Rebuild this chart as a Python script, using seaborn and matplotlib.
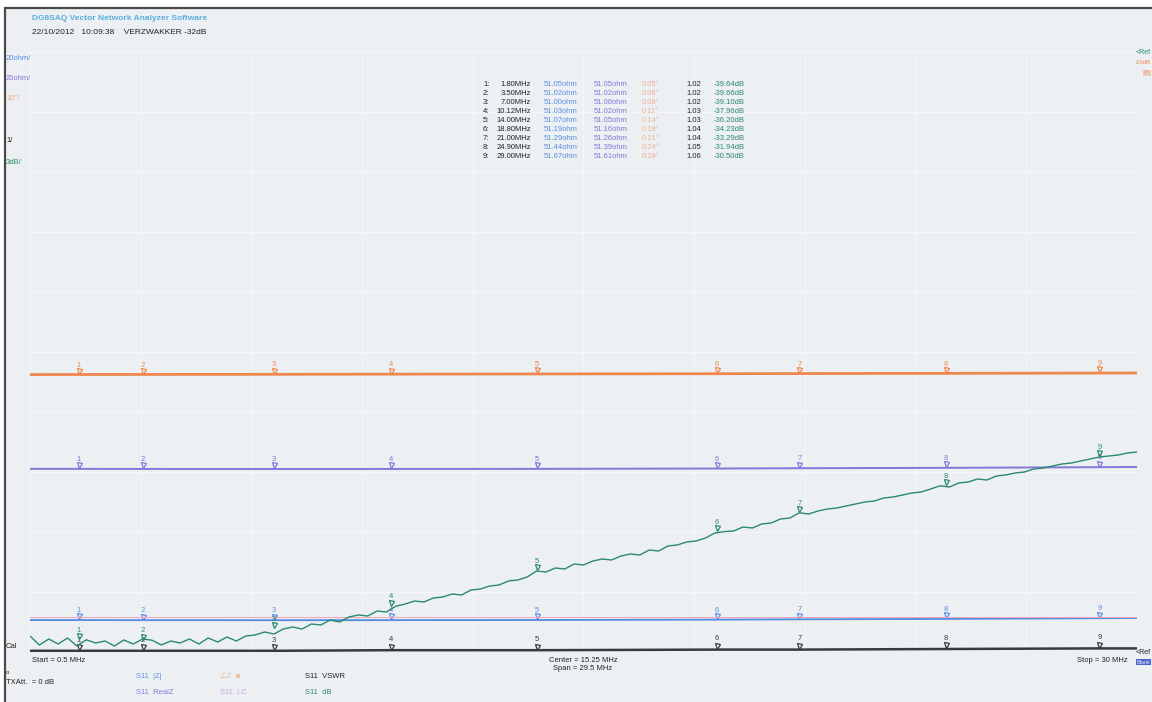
import matplotlib
matplotlib.use("Agg")
import matplotlib.pyplot as plt
import seaborn as sns
from matplotlib.transforms import offset_copy
from matplotlib.lines import Line2D
from matplotlib.patches import Rectangle

marker_mhz = [1.80, 3.50, 7.00, 10.12, 14.00, 18.80, 21.00, 24.90, 29.00]
abs_z = [51.05, 51.02, 51.00, 51.03, 51.07, 51.19, 51.29, 51.44, 51.67]
real_z = [51.05, 51.02, 51.00, 51.02, 51.05, 51.16, 51.26, 51.39, 51.61]
phase_deg = [0.05, 0.06, 0.08, 0.11, 0.14, 0.18, 0.21, 0.24, 0.29]
vswr = [1.02, 1.02, 1.02, 1.03, 1.03, 1.04, 1.04, 1.05, 1.06]
s11_db = [-39.64, -39.66, -39.10, -37.96, -36.20, -34.23, -33.29, -31.94, -30.50]

# slow traces (start, markers, stop)
trace_mhz = [0.5, 1.8, 3.5, 7.0, 10.12, 14.0, 18.8, 21.0, 24.9, 29.0, 30.0]
abs_z_trace = [51.06, 51.05, 51.02, 51.00, 51.03, 51.07, 51.19, 51.29, 51.44, 51.67, 51.74]
real_z_trace = [51.06, 51.05, 51.02, 51.00, 51.02, 51.05, 51.16, 51.26, 51.39, 51.61, 51.67]
phase_trace = [0.04, 0.05, 0.06, 0.08, 0.11, 0.14, 0.18, 0.21, 0.24, 0.29, 0.30]
lc_trace = [0.0, 0.0, 0.0, 0.0, 0.0, 0.0, 0.0, 0.0, 0.0, 0.0, 0.0]
vswr_trace = [1.02, 1.02, 1.02, 1.02, 1.03, 1.03, 1.04, 1.04, 1.05, 1.06, 1.06]

# S11 dB sweep, read every 0.25 MHz from 0.5 to 30 MHz
db_trace = [-39.45, -39.90, -39.60, -39.85, -39.55, -39.95, -39.64, -39.80,
            -39.70, -39.95, -39.65, -39.85, -39.60, -39.66, -39.90, -39.70,
            -39.80, -39.60, -39.85, -39.55, -39.75, -39.50, -39.70, -39.45,
            -39.40, -39.25, -39.35, -39.10, -39.00, -39.10, -38.85, -38.90,
            -38.65, -38.75, -38.50, -38.40, -38.45, -38.20, -38.25, -37.96,
            -37.85, -37.70, -37.75, -37.55, -37.50, -37.35, -37.40, -37.15,
            -37.10, -36.95, -36.90, -36.70, -36.65, -36.50, -36.20, -36.25,
            -36.05, -36.10, -35.85, -35.90, -35.70, -35.60, -35.65, -35.45,
            -35.35, -35.40, -35.15, -35.20, -34.95, -34.90, -34.75, -34.70,
            -34.55, -34.30, -34.23, -34.20, -34.00, -34.05, -33.85, -33.80,
            -33.60, -33.55, -33.29, -33.35, -33.20, -33.10, -33.05, -32.95,
            -32.85, -32.75, -32.70, -32.55, -32.50, -32.40, -32.30, -32.25,
            -32.10, -31.94, -32.00, -31.80, -31.75, -31.60, -31.65, -31.45,
            -31.40, -31.30, -31.25, -31.10, -31.05, -30.95, -30.85, -30.80,
            -30.70, -30.60, -30.50, -30.45, -30.40, -30.30, -30.25]
db_mhz = [0.5 + 0.25 * i for i in range(len(db_trace))]

W, H = 1152, 702
BG = "#edf0f3"
C_ORANGE = "#f0874d"
C_PURPLE = "#8576d8"
C_BLUE = "#5a8fe0"
C_PINK = "#f2a3b6"
C_GREEN = "#2a8a6c"
C_BLACK = "#3a3a3a"
C_TITLE = "#5aaee0"

sns.set_style("white")
plt.rcParams["font.family"] = ["Liberation Sans", "DejaVu Sans"]

fig = plt.figure(figsize=(W / 100, H / 100), dpi=100, facecolor="white")
fig.patches.append(Rectangle((5 / W, 0), 1, 1 - 8 / H, transform=fig.transFigure,
                             facecolor=BG, edgecolor="none", zorder=-10))
fig.lines.append(Line2D([5 / W, 5 / W], [0, 1 - 8 / H], transform=fig.transFigure,
                        color="#4a4a4a", lw=1.6))
fig.lines.append(Line2D([5 / W, 1], [1 - 8 / H, 1 - 8 / H], transform=fig.transFigure,
                        color="#4a4a4a", lw=1.6))


def px(x, y):
    return x / W, 1 - y / H


left, right, top, bottom = 30, 1137, 52, 652
ax = fig.add_axes([left / W, 1 - bottom / H, (right - left) / W, (bottom - top) / H])
ax.set_facecolor(BG)
ax.set_xlim(0.5, 30)
ax.set_ylim(0, 10)
ax.set_xticks([0.5 + 2.95 * i for i in range(11)])
ax.set_yticks(range(11))
ax.grid(True, color="#f4f6f8", lw=0.8)
ax.tick_params(length=0, labelbottom=False, labelleft=False)
for s in ax.spines.values():
    s.set_visible(False)


def trace_axis(lo, hi):
    t = ax.twinx()
    t.set_ylim(lo, hi)
    t.axis("off")
    return t


def draw_markers(t, values, color, number_off=4.2):
    tr = offset_copy(t.transData, fig=fig, x=0, y=2.6, units="points")
    for i, (f, v) in enumerate(zip(marker_mhz, values)):
        t.plot(f, v, marker="v", ms=3.6, mfc="none", mec=color, mew=0.9,
               transform=tr, zorder=6)
        t.annotate(str(i + 1), (f, v), xytext=(0, number_off), textcoords="offset points",
                   ha="center", va="bottom", fontsize=5.5, color=color, zorder=6)


# phase 10 deg/div
ax_ph = trace_axis(-46.2, 53.8)
sns.lineplot(x=trace_mhz, y=phase_trace, ax=ax_ph, color=C_ORANGE, lw=2.0)
draw_markers(ax_ph, phase_deg, C_ORANGE)

# Real Z 20 ohm/div
ax_re = trace_axis(-10, 190)
sns.lineplot(x=trace_mhz, y=real_z_trace, ax=ax_re, color=C_PURPLE, lw=1.4)
draw_markers(ax_re, real_z, C_PURPLE)

# |Z| 20 ohm/div
ax_z = trace_axis(40.4, 240.4)
sns.lineplot(x=trace_mhz, y=abs_z_trace, ax=ax_z, color=C_BLUE, lw=1.4)
draw_markers(ax_z, abs_z, C_BLUE)

# LC trace (pink), just above |Z|
ax_lc = trace_axis(-0.59, 9.41)
sns.lineplot(x=trace_mhz, y=lc_trace, ax=ax_lc, color=C_PINK, lw=0.7)

# VSWR 1/div
ax_sw = trace_axis(1, 11)
sns.lineplot(x=trace_mhz, y=vswr_trace, ax=ax_sw, color=C_BLACK, lw=1.8)
draw_markers(ax_sw, vswr, C_BLACK, number_off=5.2)

# S11 dB 3 dB/div
ax_db = trace_axis(-40.25, -10.25)
sns.lineplot(x=db_mhz, y=db_trace, ax=ax_db, color=C_GREEN, lw=1.0)
draw_markers(ax_db, s11_db, C_GREEN)

# --- header ---
fig.text(*px(32, 19), "DG8SAQ Vector Network Analyzer Software", color=C_TITLE,
         fontsize=6, fontweight="bold", va="center")
fig.text(*px(32, 33), "22/10/2012   10:09:38    VERZWAKKER -32dB", color="#222222",
         fontsize=6, va="center")

# left scale labels
fig.text(*px(6, 59), "20ohm/", color=C_BLUE, fontsize=5.5, va="center")
fig.text(*px(6, 79), "20ohm/", color=C_PURPLE, fontsize=5.5, va="center")
fig.text(*px(6, 99), "10°/", color=C_ORANGE, fontsize=5.5, va="center", alpha=0.7)
fig.text(*px(6, 140), "1/", color="#222222", fontsize=5.5, va="center")
fig.text(*px(6, 162), "3dB/", color=C_GREEN, fontsize=5.5, va="center")
fig.text(*px(6, 647), "Cal", color="#222222", fontsize=5.5, va="center")

# right reference labels
fig.text(*px(1151, 53), "<Ref", color=C_GREEN, fontsize=5, va="center", ha="right")
fig.text(*px(1151, 62), "-10dB", color=C_ORANGE, fontsize=4.3, va="center", ha="right")
fig.text(*px(1150, 73), "0°", color=C_ORANGE, fontsize=4.5, va="center", ha="right",
         alpha=0.6, bbox=dict(facecolor=C_ORANGE, edgecolor="none", alpha=0.35, pad=0.6))
fig.text(*px(1151, 652), "<Ref", color="#222222", fontsize=5, va="center", ha="right")
fig.text(*px(1150, 662), "Blank", color="#dde6ff", fontsize=4, va="center", ha="right",
         bbox=dict(facecolor="#4b63d0", edgecolor="none", pad=0.5))

# sweep labels
fig.text(*px(32, 660), "Start = 0.5 MHz", color="#222222", fontsize=5.5, va="center")
fig.text(*px(583, 660), "Center = 15.25 MHz", color="#222222", fontsize=5.5,
         va="center", ha="center")
fig.text(*px(583, 669), "Span = 29.5 MHz", color="#222222", fontsize=5.5,
         va="center", ha="center")
fig.text(*px(1128, 660), "Stop = 30 MHz", color="#222222", fontsize=5.5,
         va="center", ha="right")

# bottom legend
fig.text(*px(6, 673), "o", color="#222222", fontsize=4.5, va="center")
fig.text(*px(6, 683), "TXAtt.  = 0 dB", color="#222222", fontsize=5.5, va="center")
fig.text(*px(136, 677), "S11  |Z|", color=C_BLUE, fontsize=5.5, va="center")
fig.text(*px(136, 692), "S11  RealZ", color=C_PURPLE, fontsize=5.5, va="center")
fig.text(*px(220, 677), "∠Z  ■", color=C_ORANGE, fontsize=5.5, va="center", alpha=0.5)
fig.text(*px(220, 692), "S11  LC", color="#c8a3df", fontsize=5.5, va="center")
fig.text(*px(305, 677), "S11  VSWR", color="#222222", fontsize=5.5, va="center")
fig.text(*px(305, 692), "S11  dB", color=C_GREEN, fontsize=5.5, va="center")

# marker table
for i in range(len(marker_mhz)):
    y = 85 + 8.9 * i
    fig.text(*px(483, y), f"{i + 1}:", color="#222222", fontsize=5.5, va="center")
    fig.text(*px(531, y), f"{marker_mhz[i]:.2f}MHz", color="#222222", fontsize=5.5,
             va="center", ha="right")
    fig.text(*px(544, y), f"{abs_z[i]:.2f}ohm", color=C_BLUE, fontsize=5.5, va="center")
    fig.text(*px(594, y), f"{real_z[i]:.2f}ohm", color=C_PURPLE, fontsize=5.5, va="center")
    fig.text(*px(642, y), f"{phase_deg[i]:.2f}°", color=C_ORANGE, fontsize=5.5,
             va="center", alpha=0.6)
    fig.text(*px(686, y), f"{vswr[i]:.2f}", color="#222222", fontsize=5.5, va="center")
    fig.text(*px(714, y), f"{s11_db[i]:.2f}dB", color=C_GREEN, fontsize=5.5, va="center")

fig.savefig("out.png", dpi=100, facecolor="white")
